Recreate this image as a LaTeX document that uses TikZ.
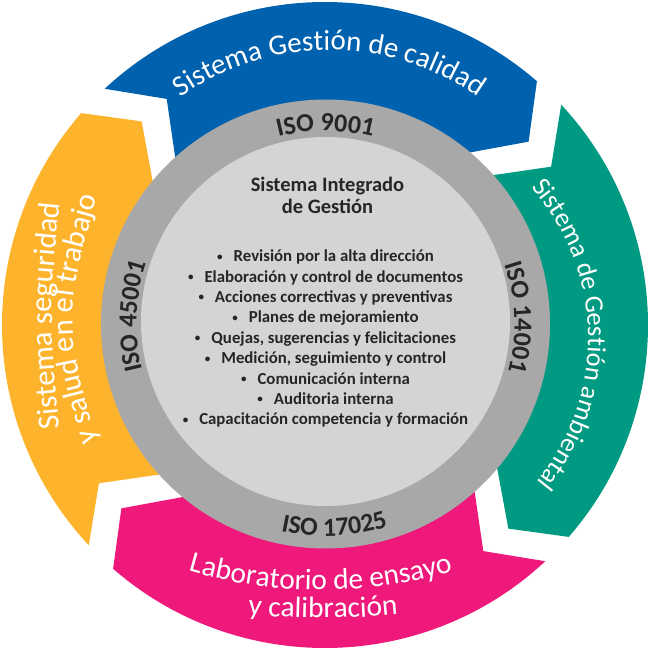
\documentclass[tikz,border=0pt]{standalone}
\usepackage{fontspec}
\setmainfont{Carlito}
\usetikzlibrary{decorations.text}
\definecolor{bandblue}{HTML}{0062AE}
\definecolor{bandteal}{HTML}{009A82}
\definecolor{bandpink}{HTML}{EE197A}
\definecolor{bandyellow}{HTML}{FDB42C}
\definecolor{ringgray}{HTML}{A8A8A8}
\definecolor{innergray}{HTML}{D4D4D4}
\definecolor{txtdark}{HTML}{262626}
\newcommand{\smallbullet}{\raisebox{1.6pt}{\fontsize{11}{11}\selectfont •}}
\begin{document}
\begin{tikzpicture}[x=1pt,y=1pt,
  isolabel/.style={decorate, decoration={text along path, text align=center, text color=txtdark,
     text={|\bfseries\fontsize{26}{26}\selectfont|#1}}},
  bandlabel/.style 2 args={decorate, decoration={text along path, text align=center, text color=white,
     text={|\fontsize{#1}{#1}\selectfont|#2}}},
  titletext/.style={font=\bfseries\fontsize{20.5}{24}\selectfont, text=txtdark, anchor=base, inner sep=0pt},
  itemtext/.style={font=\bfseries\fontsize{16.8}{20}\selectfont, text=txtdark, anchor=base, inner sep=0pt}]
\useasboundingbox (-325,-325) rectangle (325,325);
% colored circular arrows
\foreach \c/\col in {90/bandblue, 0/bandteal, -90/bandpink, 180/bandyellow}{
  \fill[\col] ({\c+43}:323) arc[start angle={\c+43}, end angle={\c-41}, radius=323]
     -- ({\c-48}:274) -- ({\c-36.5}:210)
     arc[start angle={\c-36.5}, end angle={\c+44.5}, radius=210]
     -- ({\c+35}:276) -- cycle;
}
% rings
\fill[ringgray] (0.5,1) circle[radius=224.5];
\fill[innergray] (0.5,3.5) circle[radius=184.5];
% ISO labels
\path[isolabel={ISO 9001}] (0.5,1) ++(120:193) arc[start angle=120, end angle=60, radius=193];
\path[isolabel={ISO 14001}] (0.5,1) ++(32:189) arc[start angle=32, end angle=-28, radius=189];
\path[isolabel={ISO 45001}] (0.5,1) ++(207.6:189) arc[start angle=207.6, end angle=147.6, radius=189];
\path[isolabel={ISO 17025}] (0.5,1) ++(-117.5:212) arc[start angle=-117.5, end angle=-57.5, radius=212];
% band labels
\path[bandlabel={29}{Sistema Gestión de calidad}] (4,18) ++(130:257) arc[start angle=130, end angle=50, radius=257];
\path[bandlabel={26.5}{Sistema de Gestión ambiental}] (35,-13) ++(51:228) arc[start angle=51, end angle=-49, radius=228];
\path[bandlabel={29.5}{Laboratorio de ensayo}] (-4,203) ++(248:468) arc[start angle=248, end angle=292, radius=468];
\path[bandlabel={29.5}{y calibración}] (-2,512) ++(262.5:805) arc[start angle=262.5, end angle=277.5, radius=805];
\path[bandlabel={30.5}{Sistema seguridad}] (-264,-115) .. controls (-276,9) .. (-264,133);
\path[bandlabel={30.5}{y salud en el trabajo}] (-221,-140) .. controls (-263,5.5) .. (-221,151);
% center text
\node[titletext] (t1) at (2.5,133.5) {Sistema Integrado};
\node[titletext] (t2) at (2.5,111) {de Gestión};
\foreach \i/\txt in {0/Revisión por la alta dirección,
                     1/Elaboración y control de documentos,
                     2/Acciones correctivas y preventivas,
                     3/Planes de mejoramiento,
                     4/{Quejas, sugerencias y felicitaciones},
                     5/{Medición, seguimiento y control},
                     6/Comunicación interna,
                     7/Auditoria interna,
                     8/Capacitación competencia y formación}{
  \node[itemtext] (item\i) at (0.5,{63.3-20.4*\i}) {\smallbullet\hspace{11pt}\txt};
}
\end{tikzpicture}
\end{document}
